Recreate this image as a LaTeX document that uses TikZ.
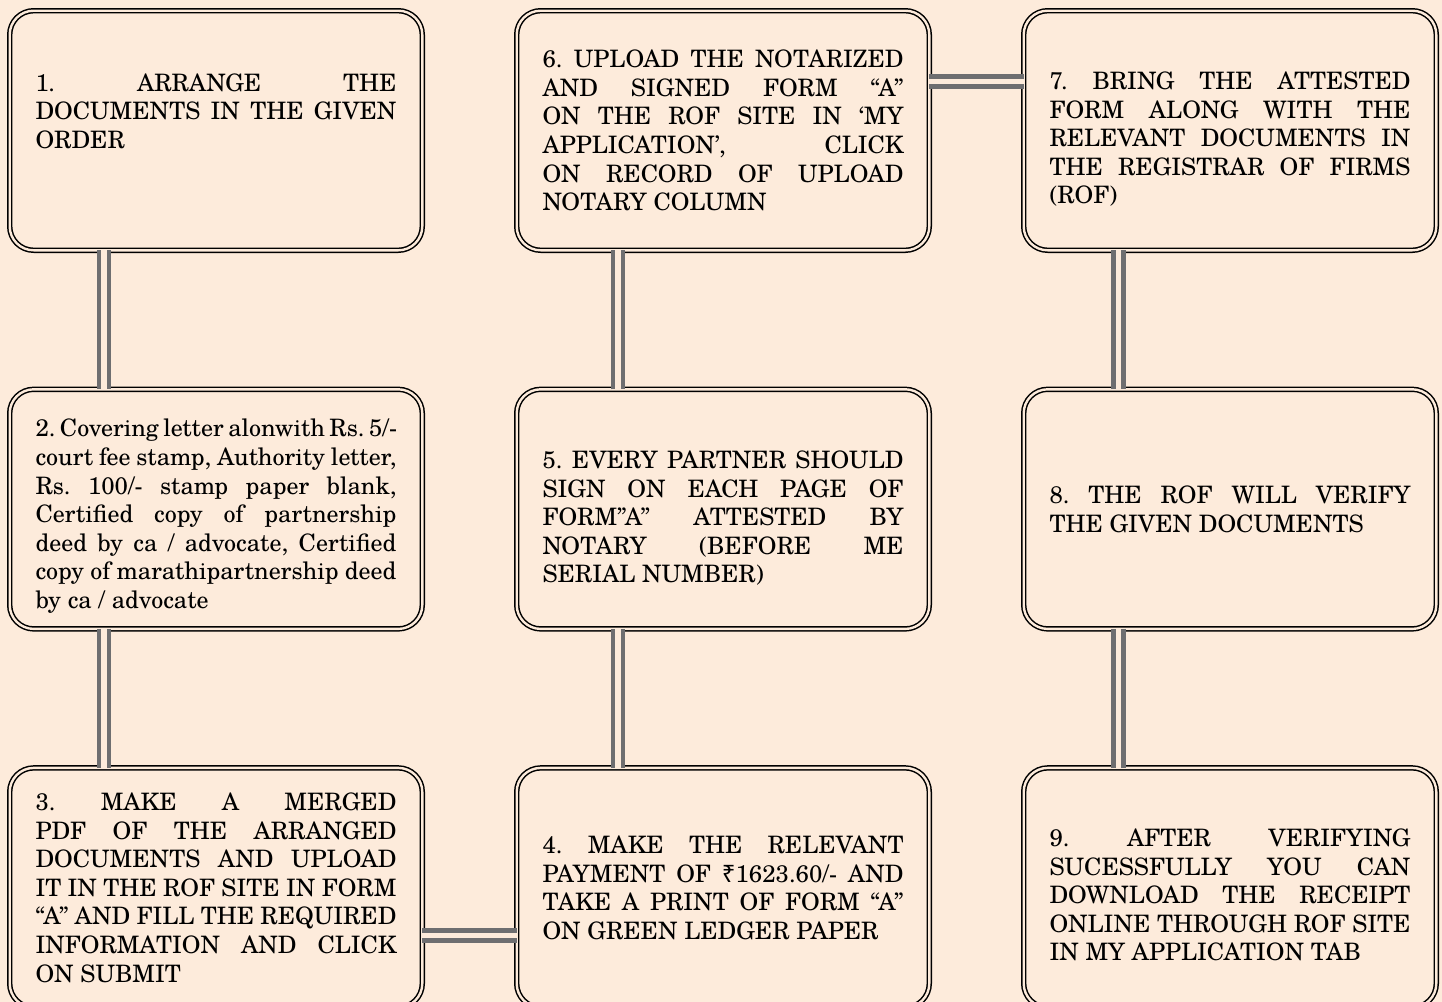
\documentclass[tikz,border=0pt]{standalone}
\usepackage{fontspec}
\setmainfont{TeX Gyre Schola}
\newfontfamily\rupeefont{Noto Sans}
\usetikzlibrary{positioning}

\definecolor{peach}{RGB}{253,235,219}
\definecolor{linkgray}{RGB}{110,110,112}

\hyphenpenalty=10000
\exhyphenpenalty=10000
\frenchspacing

\begin{document}
\begin{tikzpicture}[
        node distance=69.5pt and 47.2pt,
        stepbox/.style={rectangle, draw, double=peach, double distance=1.2pt,
        line width=0.75pt, rounded corners=12pt, fill=peach, outer sep=0pt,
        minimum width=206.3pt, minimum height=119.8pt,
        text width=180.5pt, align=justify,
        font=\fontsize{12pt}{14.3pt}\selectfont},
        link/.style={draw=linkgray, double=peach, line width=2.35pt,
        double distance=2.75pt}
    ]

% Page background
        \fill[peach] (0,0) rectangle (721pt,-501pt);
        \useasboundingbox (0,0) rectangle (721pt,-501pt);

% First column
        \node[stepbox, text depth=48.2pt] (arrange) at (108pt,-65.25pt)
        {1. ARRANGE THE\linebreak DOCUMENTS IN THE GIVEN\linebreak ORDER};
        \node[stepbox, below=of arrange, text height=16pt] (covering)
        {2.~Covering~letter~alonwith~Rs.~5/-\linebreak court fee stamp, Authority letter,\linebreak Rs. 100/- stamp paper blank,\linebreak Certified copy of partnership\linebreak deed by ca / advocate, Certified\linebreak copy of marathipartnership deed\linebreak by ca / advocate};
        \node[stepbox, below=of covering] (merged)
        {3. MAKE A MERGED\linebreak PDF OF THE ARRANGED\linebreak DOCUMENTS AND UPLOAD\linebreak IT IN THE ROF SITE IN FORM\linebreak “A” AND FILL THE REQUIRED\linebreak INFORMATION AND CLICK\linebreak ON SUBMIT};

% Second column, going up
        \node[stepbox, right=of merged] (payment)
        {4. MAKE THE RELEVANT\linebreak PAYMENT OF {\rupeefont ₹}1623.60/- AND\linebreak TAKE A PRINT OF FORM “A”\linebreak ON GREEN LEDGER PAPER};
        \node[stepbox, right=of covering, text height=18pt] (notary)
        {5. EVERY PARTNER SHOULD\linebreak SIGN ON EACH PAGE OF\linebreak FORM”A” ATTESTED BY\linebreak NOTARY (BEFORE ME\linebreak SERIAL NUMBER)};
        \node[stepbox, right=of arrange] (upload)
        {6. UPLOAD THE NOTARIZED\linebreak AND SIGNED FORM “A”\linebreak ON THE ROF SITE IN ‘MY\linebreak APPLICATION’, CLICK\linebreak ON RECORD OF UPLOAD\linebreak NOTARY COLUMN};

% Third column, going down
        \node[stepbox, right=of upload, text height=17.7pt] (attested)
        {7. BRING THE ATTESTED\linebreak FORM ALONG WITH THE\linebreak RELEVANT DOCUMENTS IN\linebreak THE REGISTRAR OF FIRMS\linebreak (ROF)};
        \node[stepbox, right=of notary] (verify)
        {8. THE ROF WILL VERIFY\linebreak THE GIVEN DOCUMENTS};
        \node[stepbox, right=of payment, text height=16.2pt] (receipt)
        {9. AFTER VERIFYING\linebreak SUCESSFULLY YOU CAN\linebreak DOWNLOAD THE RECEIPT\linebreak ONLINE THROUGH ROF SITE\linebreak IN MY APPLICATION TAB};

% Links
        \draw[link] ([xshift=-56pt]arrange.south) -- ([xshift=-56pt]covering.north);
        \draw[link] ([xshift=-56pt]covering.south) -- ([xshift=-56pt]merged.north);
        \draw[link] ([yshift=-24pt]merged.east) -- ([yshift=-24pt]payment.west);
        \draw[link] ([xshift=-52.5pt]payment.north) -- ([xshift=-52.5pt]notary.south);
        \draw[link] ([xshift=-52.5pt]notary.north) -- ([xshift=-52.5pt]upload.south);
        \draw[link] ([yshift=24.4pt]upload.east) -- ([yshift=24.4pt]attested.west);
        \draw[link] ([xshift=-55.75pt]attested.south) -- ([xshift=-55.75pt]verify.north);
        \draw[link] ([xshift=-55.75pt]verify.south) -- ([xshift=-55.75pt]receipt.north);

\end{tikzpicture}
\end{document}
